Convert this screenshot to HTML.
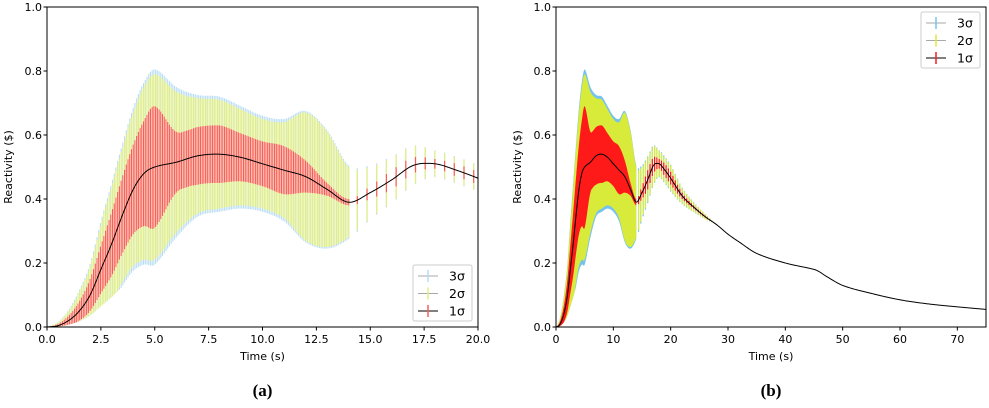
<!DOCTYPE html>
<html><head><meta charset="utf-8"><style>
body{margin:0;background:#fff;width:989px;height:403px;overflow:hidden}
svg{font-family:"DejaVu Sans","Liberation Sans",sans-serif}
</style></head><body>
<svg id="c" width="989" height="403" viewBox="0 0 989 403"></svg>
<script>
const times=[0,0.5,1,1.5,2,2.5,3,3.5,4,4.5,5,6,7,8,9,10,11,12,13,14,15,16,17,18,19,20,22,24,26,28,30,32,35,40,45,46,47,50,55,60,65,70,75];
const meanVals=[0,0.004,0.02,0.05,0.1,0.18,0.26,0.35,0.43,0.48,0.50,0.515,0.535,0.54,0.53,0.51,0.49,0.47,0.43,0.39,0.42,0.46,0.505,0.51,0.49,0.465,0.41,0.375,0.345,0.32,0.29,0.265,0.23,0.2,0.18,0.172,0.16,0.13,0.105,0.085,0.072,0.063,0.055];
const sig1=[0,0.005,0.015,0.03,0.05,0.075,0.1,0.12,0.14,0.165,0.19,0.095,0.09,0.09,0.075,0.07,0.075,0.05,0.02,0.01,0.02,0.03,0.025,0.015,0.02,0.02,0.01,0.005,0.003,0,0,0,0,0,0,0,0,0,0,0,0,0,0];
const sig2=[0,0.01,0.03,0.06,0.09,0.14,0.18,0.21,0.24,0.27,0.29,0.22,0.18,0.17,0.15,0.14,0.15,0.2,0.18,0.11,0.08,0.07,0.06,0.04,0.04,0.04,0.025,0.015,0.008,0,0,0,0,0,0,0,0,0,0,0,0,0,0];
const sig3=[0,0.011,0.033,0.065,0.097,0.15,0.19,0.222,0.255,0.285,0.305,0.235,0.19,0.18,0.16,0.15,0.16,0.205,0.185,0.115,0.085,0.073,0.062,0.042,0.042,0.042,0.026,0.016,0.008,0,0,0,0,0,0,0,0,0,0,0,0,0,0];
const yTicks=["0.0","0.2","0.4","0.6","0.8","1.0"];
const xTicksA=["0.0","2.5","5.0","7.5","10.0","12.5","15.0","17.5","20.0"];
const xTicksB=["0","10","20","30","40","50","60","70"];
const NS="http://www.w3.org/2000/svg";
const svg=document.getElementById('c');
function mk(tag,at,parent){const e=document.createElementNS(NS,tag);for(const k in at)e.setAttribute(k,at[k]);(parent||svg).appendChild(e);return e;}
function slope(arr,i){const n=arr.length;const a=Math.max(0,i-1),b=Math.min(n-1,i+1);return (arr[b]-arr[a])/(times[b]-times[a]);}
function interp(arr,t){if(t<=times[0])return arr[0];for(let i=1;i<times.length;i++){if(t<=times[i]){const h=times[i]-times[i-1],f=(t-times[i-1])/h;const p0=arr[i-1],p1=arr[i],m0=slope(arr,i-1)*h,m1=slope(arr,i)*h;const f2=f*f,f3=f2*f;let v=(2*f3-3*f2+1)*p0+(f3-2*f2+f)*m0+(-2*f3+3*f2)*p1+(f3-f2)*m1;const lo=Math.min(p0,p1),hi=Math.max(p0,p1),pad=(hi-lo)*0.3;return Math.max(lo-pad,Math.min(hi+pad,Math.max(0,v)));}}return arr[arr.length-1];}
function lowerOf(m,d){return m-Math.min(d,0.64*m);}
function panel(id,x0,x1,tmax,ticks,tickStep,light,label,legY,legX){
  const y0=327,y1=7;
  const X=t=>x0+(t/tmax)*(x1-x0);const Y=v=>y0-(v)*(y0-y1);
  const g=mk('g',{});
  const bands=[[sig3,light?'#b8dcf5':'#74c2f0','band-3sigma'],[sig2,light?'#e3ef80':'#d8ea3a','band-2sigma'],[sig1,light?'#ff5a5a':'#ff1a1a','band-1sigma']];
  const tEnd=14;
  bands.forEach(([s,col,nm])=>{
    const bg=mk('g',{},g);
    if(!light){
      let up=[],lo=[];for(let t=0;t<=tEnd+1e-9;t+=0.1){const m=interp(meanVals,t),d=interp(s,t);up.push(X(t)+','+Y(m+d));lo.unshift(X(t)+','+Y(lowerOf(m,d)));}
      mk('polygon',{points:up.concat(lo).join(' '),fill:col},bg);
    }else{
      for(let t=0;t<=tEnd+1e-9;t+=0.08){const m=interp(meanVals,t),d=interp(s,t);mk('line',{x1:X(t),x2:X(t),y1:Y(lowerOf(m,d)),y2:Y(m+d),stroke:col,'stroke-width':1.1},bg);}
    }
    const step=light?0.45:0.4,lim=light?20:28;
    for(let t=tEnd+0.4;t<=lim;t+=step){const m=interp(meanVals,t),d=interp(s,t);mk('line',{x1:X(t),x2:X(t),y1:Y(m-d),y2:Y(m+d),stroke:col,'stroke-width':1.2},bg);}
  });
  let pts=[];for(let t=0;t<=tmax+1e-9;t+=tmax/500)pts.push(X(t)+','+Y(interp(meanVals,t)));
  const ml=mk('polyline',{points:pts.join(' '),fill:'none',stroke:'#000','stroke-width':1},g);
  mk('rect',{x:x0,y:y1,width:x1-x0,height:y0-y1,fill:'none',stroke:'#000','stroke-width':1},g);
  yTicks.forEach((l,i)=>{const y=Y(i*0.2);mk('line',{x1:x0-3.5,x2:x0,y1:y,y2:y,stroke:'#000'},g);const t=mk('text',{x:x0-5,y:y+4,'font-size':11,'text-anchor':'end'},g);t.textContent=l;});
  ticks.forEach((l,i)=>{const x=X(i*tickStep);mk('line',{x1:x,x2:x,y1:y0,y2:y0+3.5,stroke:'#000'},g);const t=mk('text',{x:x,y:y0+16,'font-size':11,'text-anchor':'middle'},g);t.textContent=l;});
  const xt=mk('text',{x:(x0+x1)/2,y:y0+33,'font-size':11,'text-anchor':'middle'},g);xt.textContent='Time (s)';
  const yt=mk('text',{x:0,y:0,'font-size':11,'text-anchor':'middle',transform:`translate(${x0-35},${(y0+y1)/2}) rotate(-90)`},g);yt.textContent='Reactivity ($)';
  const lab=mk('text',{x:(x0+x1)/2,y:396,'font-size':17,'font-weight':'bold','text-anchor':'middle','font-family':'Liberation Serif,serif'},g);lab.textContent=label;
  const lg=mk('g',{},g);
  mk('rect',{x:legX,y:legY,width:59,height:56,rx:2,fill:'#fff',stroke:'#ccc','fill-opacity':0.85},lg);
  [['3σ','#aaa',bands[0][1]],['2σ','#aaa',bands[1][1]],['1σ','#000',bands[2][1]]].forEach(([tx,lc,cc],i)=>{
    const e=mk('g',{},lg);
    const yy=legY+11+i*17.5;
    mk('line',{x1:legX+5,x2:legX+25,y1:yy,y2:yy,stroke:lc,'stroke-width':1},e);
    mk('line',{x1:legX+15,x2:legX+15,y1:yy-6,y2:yy+6,stroke:cc,'stroke-width':1.5},e);
    const t=mk('text',{x:legX+36,y:yy+4.5,'font-size':12.5},e);t.textContent=tx;
  });
}
panel('chart-a',47,478,20,xTicksA,2.5,true,'(a)',265,413);
panel('chart-b',556,986,75,xTicksB,10,false,'(b)',12,921);
</script>
</body></html>
